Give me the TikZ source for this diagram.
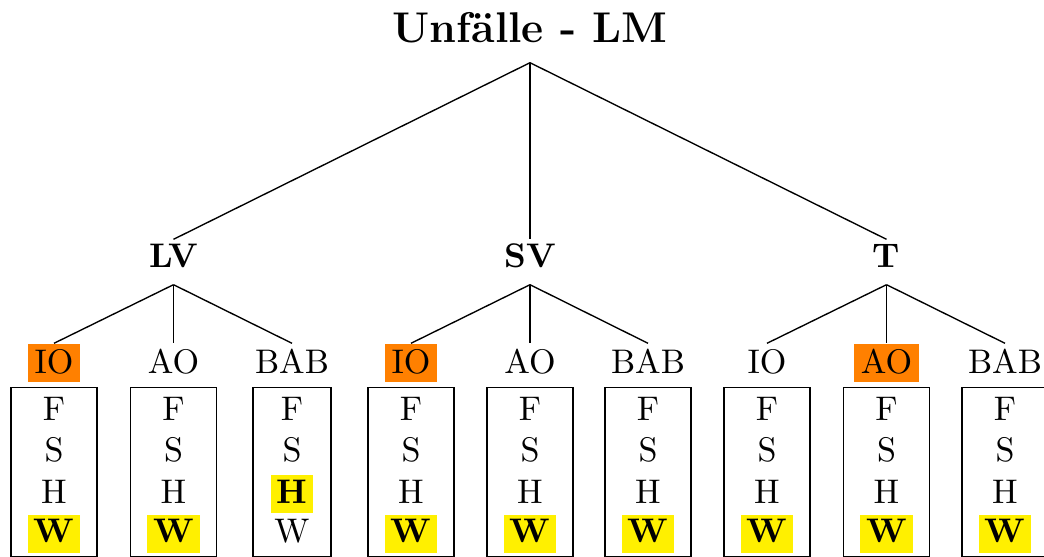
\documentclass[tikz,border=0pt]{standalone}
\definecolor{hlorange}{RGB}{255,128,0}
\definecolor{hlyellow}{RGB}{255,240,0}
\begin{document}
\begin{tikzpicture}[x=0.293pt,y=-0.293pt,
  ttl/.style={font=\fontsize{12.6pt}{15pt}\selectfont\bfseries, anchor=base, inner sep=0pt, text depth=5.57pt},
  lvone/.style={font=\bfseries, anchor=base, inner sep=0pt, text height=8.2pt, text depth=4.69pt},
  lvtwo/.style={anchor=base, inner xsep=2.05pt, inner ysep=0pt, text height=8.5pt, text depth=2.64pt},
  hot/.style={lvtwo, fill=hlorange},
  leafbox/.style={draw, line width=0.4pt, anchor=north, minimum width=25.2pt, minimum height=49.5pt, inner sep=0pt},
  item/.style={anchor=base, inner xsep=1.76pt, inner ysep=0pt, text height=8.2pt, text depth=2.93pt},
  hl/.style={item, fill=hlyellow, font=\bfseries},
  edge/.style={line width=0.4pt}]
\useasboundingbox (0,0) rectangle (1044,557);

\node[ttl] (top) at (530,43) {Unfälle - LM};

\node[lvone] (lv) at (173.5,268) {LV};
\node[lvone] (sv) at (530,268) {SV};
\node[lvone] (t)  at (886.5,268) {T};

\draw[edge] (top.south) -- (lv.north);
\draw[edge] (top.south) -- (sv.north);
\draw[edge] (top.south) -- (t.north);

\node[hot]   (l1) at (54,373)    {IO};
\node[lvtwo] (l2) at (173.5,373) {AO};
\node[lvtwo] (l3) at (292,373)   {BAB};
\node[hot]   (l4) at (411,373)   {IO};
\node[lvtwo] (l5) at (530,373)   {AO};
\node[lvtwo] (l6) at (648,373)   {BAB};
\node[lvtwo] (l7) at (767,373)   {IO};
\node[hot]   (l8) at (886.5,373) {AO};
\node[lvtwo] (l9) at (1005,373)  {BAB};

\draw[edge] (lv.south) -- (l1.north);
\draw[edge] (lv.south) -- (l2.north);
\draw[edge] (lv.south) -- (l3.north);
\draw[edge] (sv.south) -- (l4.north);
\draw[edge] (sv.south) -- (l5.north);
\draw[edge] (sv.south) -- (l6.north);
\draw[edge] (t.south) -- (l7.north);
\draw[edge] (t.south) -- (l8.north);
\draw[edge] (t.south) -- (l9.north);

\foreach \i/\x in {1/54,2/173.5,4/411,5/530,6/648,7/767,8/886.5,9/1005}{
  \node[leafbox] (b\i) at (\x,387) {};
  \node[item] (b\i f) at (\x,420) {F};
  \node[item] (b\i s) at (\x,461) {S};
  \node[item] (b\i h) at (\x,503) {H};
  \node[hl]   (b\i w) at (\x,543) {W};
}
\node[leafbox, minimum width=22.85pt] (b3) at (292,387) {};
\node[item] (b3f) at (292,420) {F};
\node[item] (b3s) at (292,461) {S};
\node[hl]   (b3h) at (292,503) {H};
\node[item] (b3w) at (292,543) {W};
\end{tikzpicture}
\end{document}
